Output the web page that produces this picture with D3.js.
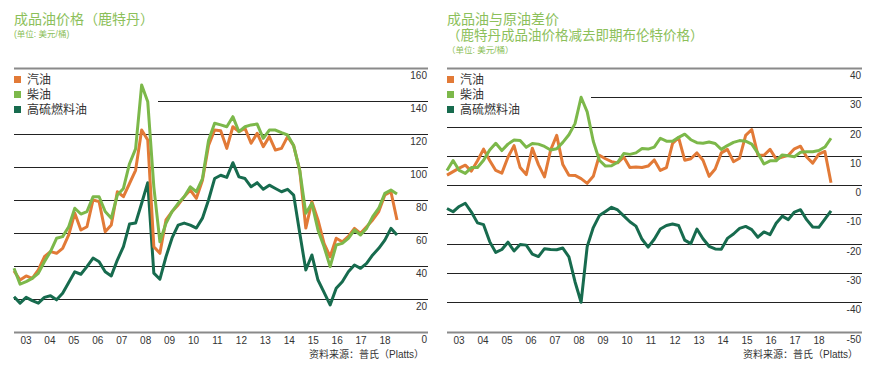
<!DOCTYPE html>
<html>
<head>
<meta charset="utf-8">
<script src="https://cdn.jsdelivr.net/npm/d3@7/dist/d3.min.js"></script>
<style>
  body { margin: 0; background: #fff; }
  svg { display: block; font-family: "Liberation Sans", "Noto Sans CJK SC", sans-serif; }
  .tick { font-size: 10px; fill: #333; }
  .title { fill: #8cc05a; }
</style>
</head>
<body>
<svg width="872" height="368"></svg>
<script>
// quarterly data, 2003 Q1 .. 2018 Q4
var years = ["03","04","05","06","07","08","09","10","11","12","13","14","15","16","17","18"];
var seriesNames = ["汽油", "柴油", "高硫燃料油"];
var colors = ["#e27a37", "#7cb84a", "#176b4e"];

var leftTicks = [160, 140, 120, 100, 80, 60, 40, 20, 0];
var rightTicks = [40, 30, 20, 10, 0, -10, -20, -30, -40, -50];

var priceGasoline = [37,31.5,34,32.5,37.6,45.6,48.7,47.7,50.7,58.8,72,61.8,63.8,80,79,60.8,
  64.8,85,82,90,98,122.4,116.4,51.7,47.7,67.9,73,77,82,86,81,92,
  113,122.4,122,111.3,124.4,121.4,123.4,114.4,120.4,112.3,118.4,110.3,111.3,118.4,113,98,
  63,79,67.9,53.7,45.6,56.8,54.7,58,62.8,59.8,63.8,67.9,73,83,85,67.9];
var priceDiesel = [38.6,29,30.5,32.5,35.6,42.6,48.7,56.8,57.8,63.8,75,71.5,73,82,82,73,
  69,83,87,102,111,149.7,139.6,88,54.7,65.9,73,78,82,88,85,93,
  116,126.5,125.5,124.4,130.5,121.4,124.4,125.5,126,117.4,122.4,122.4,120.8,119.4,113,98,
  72,78,61.8,51.7,39.6,52.7,53.7,56.8,61.8,58.8,62.8,69.9,75,84,86,83.6];
var priceFuel = [21.4,17.5,21,19,17.5,21,22,19.5,23.5,30,36.5,35,39.6,44.8,42.6,36.5,
  34,43.6,51.7,65.4,66,78,90.5,35.7,32,45.6,57,64.8,66,64.8,63,69,
  80,93,95,93.7,102.6,94,93,88,90.5,86.5,89,87,85,86.5,83,60,
  37.6,46.7,31.5,24,16.4,26.5,30.5,36.5,40.6,38.6,41.6,46.7,50.7,55.7,62.8,58.8];

var crackGasoline = [3.4,4.6,5.8,6.8,4.8,8.3,12.3,8.4,5,4.1,9.5,13.5,6,3.6,12.6,7,
  2.8,12,17,7,3.4,3.3,2.2,0.6,3,10.2,9,8,7.6,9.6,6,6.2,
  6,6.5,8.6,5,6,14.2,16.2,8.5,9,11,8.5,3,5.5,11,12.2,8,
  9.2,17,19,10.3,10.2,12.2,8.9,9.6,10.2,12.4,13.3,9.6,7.5,10.6,11.5,0.8];
var crackDiesel = [5,8.4,5,4,6,6,8.5,12,14.3,11.8,14,15.4,15.2,12.9,14.2,14,
  13.2,12,12.4,14.6,17.2,21,30,25,15,8.5,6.5,6.6,7.8,10.8,10.5,11,
  12.5,12.3,13,16,15,15,16.3,17.4,15.5,14.5,14.3,14.7,14.2,12.2,13.5,14.6,
  15.2,15,14,10.9,7.2,8.3,8.3,10.3,10,9.7,11.2,11.4,11.4,11.8,13,16];
var crackFuel = [-8,-9.1,-7.3,-6.2,-9.2,-12.9,-13.5,-19.3,-23,-22,-19.5,-22.5,-20.3,-20.5,-23.6,-24.4,
  -21.7,-22,-22.1,-21.5,-24.5,-33,-40,-21,-14.5,-10.4,-9,-7.6,-8.5,-10.5,-12.5,-14,
  -18.5,-21.2,-18.5,-15,-13.8,-13.3,-13.8,-18.8,-20,-15,-18.3,-20.9,-21.8,-21.9,-18.2,-16.7,
  -14.8,-14.1,-15.2,-17.8,-16,-16.9,-13,-10.6,-11.8,-9.2,-8.4,-11.8,-14.3,-14.4,-11.6,-8.8];

var svg = d3.select("svg");

function panel(opt) {
  var g = svg.append("g");
  var x = d3.scaleLinear().domain([0, opt.series[0].length - 1]).range([opt.x0, opt.x1]);
  var xYear = d3.scaleLinear().domain([2003, 2019]).range([opt.x0, opt.x1]);
  var y = d3.scaleLinear().domain(opt.domain).range([opt.yBottom, opt.yTop]);
  var top = opt.domain[1], bottom = opt.domain[0];

  // titles
  opt.titles.forEach(function(t) {
    g.append("text").attr("class", "title")
      .attr("x", opt.x0).attr("y", t.y)
      .attr("font-size", t.size)
      .attr("fill", t.color || null)
      .text(t.text);
  });

  // gridlines
  g.selectAll("line.grid").data(opt.ticks).enter().append("line")
    .attr("x1", function(d) { return d === opt.shortTick ? opt.shortX : opt.x0; })
    .attr("x2", opt.gridRight)
    .attr("y1", function(d) { return Math.round(y(d)) + 0.5; })
    .attr("y2", function(d) { return Math.round(y(d)) + 0.5; })
    .attr("stroke", function(d) { return (d === top || d === bottom) ? "#8a8a8a" : "#222"; })
    .attr("stroke-width", function(d) { return (d === top || d === bottom) ? 2 : 1; });

  g.selectAll("text.ylab").data(opt.ticks).enter().append("text")
    .attr("class", "tick")
    .attr("x", opt.gridRight - 1)
    .attr("y", function(d) { return y(d) + 11; })
    .attr("text-anchor", "end")
    .text(function(d) { return d; });

  // year labels
  g.selectAll("text.xlab").data(years).enter().append("text")
    .attr("class", "tick")
    .attr("x", function(d, i) { return xYear(2003 + i + 0.5); })
    .attr("y", 344)
    .attr("text-anchor", "middle")
    .text(function(d) { return d; });

  // lines: fuel oil first so that gasoline/diesel sit on top
  var line = d3.line().x(function(d, i) { return x(i); }).y(function(d) { return y(d); });
  [2, 0, 1].forEach(function(k) {
    g.append("path").datum(opt.series[k])
      .attr("fill", "none")
      .attr("stroke", colors[k])
      .attr("stroke-width", 3)
      .attr("stroke-linejoin", "round")
      .attr("d", line);
  });

  // legend
  var lg = g.selectAll("g.leg").data(seriesNames).enter().append("g")
    .attr("transform", function(d, i) { return "translate(" + opt.x0 + "," + (opt.legendY + i * 15) + ")"; });
  lg.append("rect").attr("x", 0).attr("y", -5).attr("width", 7).attr("height", 7)
    .attr("fill", function(d, i) { return colors[i]; });
  lg.append("text").attr("x", 13).attr("y", 3).attr("font-size", 12).attr("fill", "#333")
    .text(function(d) { return d; });

  // source
  g.append("text").attr("class", "tick")
    .attr("x", opt.gridRight - 4).attr("y", 358)
    .attr("text-anchor", "end")
    .text("资料来源：普氏（Platts）");
}

panel({
  x0: 14, x1: 397, gridRight: 428,
  yTop: 68, yBottom: 332, domain: [0, 160],
  ticks: leftTicks, shortTick: 140, shortX: 158,
  legendY: 81,
  series: [priceGasoline, priceDiesel, priceFuel],
  titles: [
    { text: "成品油价格（鹿特丹）", y: 24, size: 14 },
    { text: "(单位: 美元/桶)", y: 37, size: 8.5 }
  ]
});

panel({
  x0: 447, x1: 831, gridRight: 862,
  yTop: 68, yBottom: 331.5, domain: [-50, 40],
  ticks: rightTicks, shortTick: 30, shortX: 591,
  legendY: 81,
  series: [crackGasoline, crackDiesel, crackFuel],
  titles: [
    { text: "成品油与原油差价", y: 24, size: 14 },
    { text: "（鹿特丹成品油价格减去即期布伦特价格）", y: 40, size: 13.5 },
    { text: "（单位: 美元/桶）", y: 53, size: 8.5, color: "#8aa57a" }
  ]
});
</script>
</body>
</html>
